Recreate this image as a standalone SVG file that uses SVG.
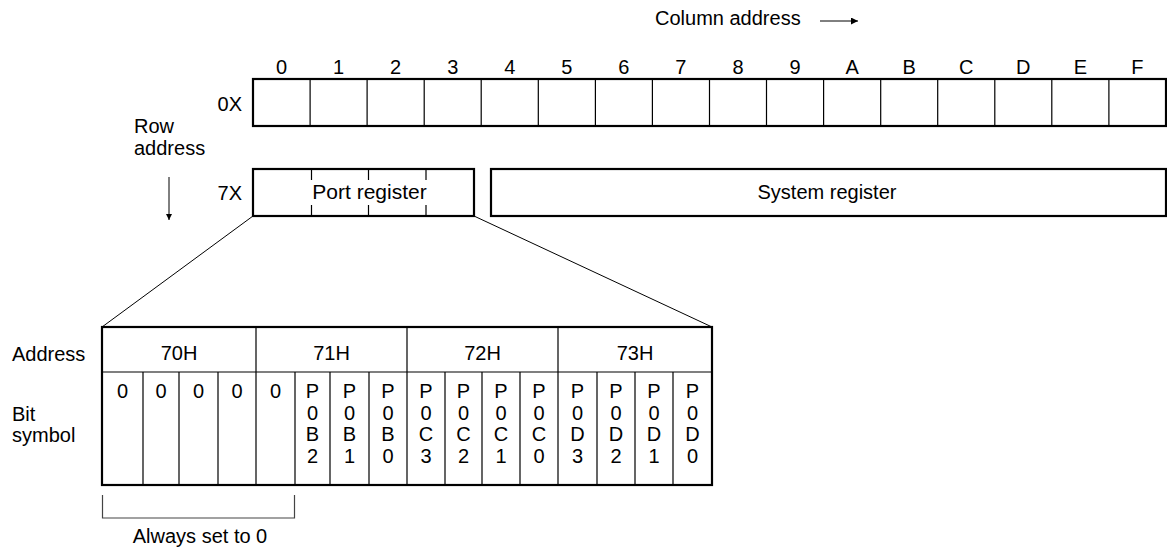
<svg xmlns="http://www.w3.org/2000/svg" width="1167" height="556" viewBox="0 0 1167 556">
<style>
text{font-family:"Liberation Sans",Arial,sans-serif;font-size:20px;fill:#000}
.c{text-anchor:middle}
.e{text-anchor:end}
.box{fill:#fff;stroke:#000;stroke-width:2.2}
.thin{stroke:#000;stroke-width:1.2;fill:none}
.conn{stroke:#000;stroke-width:1;fill:none}
</style>
<defs>
<marker id="ah" viewBox="0 0 10 10" refX="10" refY="5" markerWidth="13" markerHeight="7" markerUnits="userSpaceOnUse" orient="auto">
<path d="M0,0 L10,5 L0,10 z" fill="#000"/>
</marker>
<marker id="ahd" viewBox="0 0 10 10" refX="10" refY="5" markerWidth="14" markerHeight="6" markerUnits="userSpaceOnUse" orient="auto">
<path d="M0,0 L10,5 L0,10 z" fill="#000"/>
</marker>
</defs>

<g id="column-address">
<text x="655" y="25">Column address</text>
</g>
<g id="row-address">
<text x="134" y="133">Row</text>
<text x="134" y="155">address</text>
</g>

<g id="column-labels">
<text class="c" x="281.5" y="74">0</text>
<text class="c" x="338.6" y="74">1</text>
<text class="c" x="395.6" y="74">2</text>
<text class="c" x="452.7" y="74">3</text>
<text class="c" x="509.7" y="74">4</text>
<text class="c" x="566.8" y="74">5</text>
<text class="c" x="623.9" y="74">6</text>
<text class="c" x="680.9" y="74">7</text>
<text class="c" x="738.0" y="74">8</text>
<text class="c" x="795.0" y="74">9</text>
<text class="c" x="852.1" y="74">A</text>
<text class="c" x="909.2" y="74">B</text>
<text class="c" x="966.2" y="74">C</text>
<text class="c" x="1023.3" y="74">D</text>
<text class="c" x="1080.3" y="74">E</text>
<text class="c" x="1137.4" y="74">F</text>
</g>

<g id="row-0X">
<text class="e" x="242" y="111">0X</text>
<rect class="box" x="253" y="79" width="913" height="47"/>
<path class="thin" d="M310.1,79V126M367.1,79V126M424.2,79V126M481.2,79V126M538.3,79V126M595.4,79V126M652.4,79V126M709.5,79V126M766.5,79V126M823.6,79V126M880.7,79V126M937.7,79V126M994.8,79V126M1051.8,79V126M1108.9,79V126"/>
</g>

<g id="row-7X">
<text class="e" x="242" y="200">7X</text>
</g>

<g id="port-register">
<rect class="box" x="253" y="169" width="221" height="47"/>
<path class="thin" d="M311.5,169V180M368.5,169V180M426,169V180M311.5,205V216M368.5,205V216M426,205V216"/>
<text class="c" x="369.5" y="199" style="font-size:21px">Port register</text>
</g>

<g id="system-register">
<rect class="box" x="491" y="169" width="675" height="47"/>
<text class="c" x="827" y="199">System register</text>
</g>

<g id="bit-table">
<text x="12" y="361">Address</text>
<text x="12" y="421">Bit</text>
<text x="12" y="442">symbol</text>
<rect class="box" x="102" y="327" width="610" height="158"/>
<path class="thin" d="M102,372H712M256,327V485M407,327V485M558,327V485M143,372V485M179,372V485M218,372V485M295,372V485M330,372V485M369,372V485M445,372V485M482,372V485M520,372V485M597,372V485M635,372V485M673,372V485"/>
<text class="c" x="179" y="360">70H</text>
<text class="c" x="331.5" y="360">71H</text>
<text class="c" x="482.5" y="360">72H</text>
<text class="c" x="635" y="360">73H</text>
<g class="bits">
<text class="c" x="122.5" y="398">0</text>
<text class="c" x="161" y="398">0</text>
<text class="c" x="198.5" y="398">0</text>
<text class="c" x="237" y="398">0</text>
<text class="c" x="275.5" y="398">0</text>
<text class="c" x="312.5" y="398"><tspan x="312.5">P</tspan><tspan x="312.5" dy="21.5">0</tspan><tspan x="312.5" dy="21.5">B</tspan><tspan x="312.5" dy="21.5">2</tspan></text>
<text class="c" x="349.5" y="398"><tspan x="349.5">P</tspan><tspan x="349.5" dy="21.5">0</tspan><tspan x="349.5" dy="21.5">B</tspan><tspan x="349.5" dy="21.5">1</tspan></text>
<text class="c" x="388" y="398"><tspan x="388">P</tspan><tspan x="388" dy="21.5">0</tspan><tspan x="388" dy="21.5">B</tspan><tspan x="388" dy="21.5">0</tspan></text>
<text class="c" x="426" y="398"><tspan x="426">P</tspan><tspan x="426" dy="21.5">0</tspan><tspan x="426" dy="21.5">C</tspan><tspan x="426" dy="21.5">3</tspan></text>
<text class="c" x="463.5" y="398"><tspan x="463.5">P</tspan><tspan x="463.5" dy="21.5">0</tspan><tspan x="463.5" dy="21.5">C</tspan><tspan x="463.5" dy="21.5">2</tspan></text>
<text class="c" x="501" y="398"><tspan x="501">P</tspan><tspan x="501" dy="21.5">0</tspan><tspan x="501" dy="21.5">C</tspan><tspan x="501" dy="21.5">1</tspan></text>
<text class="c" x="539" y="398"><tspan x="539">P</tspan><tspan x="539" dy="21.5">0</tspan><tspan x="539" dy="21.5">C</tspan><tspan x="539" dy="21.5">0</tspan></text>
<text class="c" x="577.5" y="398"><tspan x="577.5">P</tspan><tspan x="577.5" dy="21.5">0</tspan><tspan x="577.5" dy="21.5">D</tspan><tspan x="577.5" dy="21.5">3</tspan></text>
<text class="c" x="616" y="398"><tspan x="616">P</tspan><tspan x="616" dy="21.5">0</tspan><tspan x="616" dy="21.5">D</tspan><tspan x="616" dy="21.5">2</tspan></text>
<text class="c" x="654" y="398"><tspan x="654">P</tspan><tspan x="654" dy="21.5">0</tspan><tspan x="654" dy="21.5">D</tspan><tspan x="654" dy="21.5">1</tspan></text>
<text class="c" x="692.5" y="398"><tspan x="692.5">P</tspan><tspan x="692.5" dy="21.5">0</tspan><tspan x="692.5" dy="21.5">D</tspan><tspan x="692.5" dy="21.5">0</tspan></text>
</g>
</g>

<g id="always-set">
<path d="M102.5,495V518H294.5V495" fill="none" stroke="#444" stroke-width="1.2"/>
<text class="c" x="200" y="543">Always set to 0</text>
</g>

<g id="connectors">
<path class="conn" d="M820,21H858" marker-end="url(#ah)"/>
<path class="conn" d="M169,177V220" marker-end="url(#ahd)"/>
<path class="conn" d="M253,216L102,327"/>
<path class="conn" d="M474,216L712,327"/>
</g>
</svg>
